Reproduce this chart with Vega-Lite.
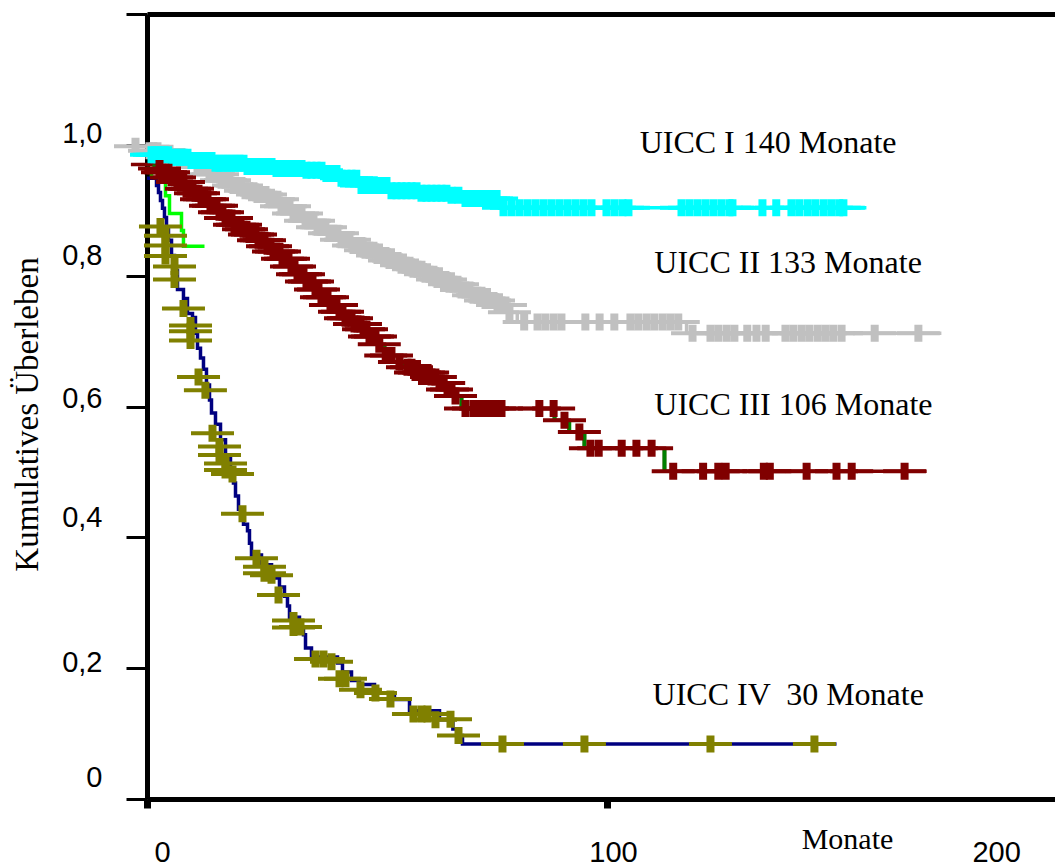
{
"$schema": "https://vega.github.io/schema/vega-lite/v6.json",
"width": 908, "height": 785,
"autosize": {"type": "none"},
"padding": {"left": 147, "top": 14, "right": 0, "bottom": 69},
"background": "white",
"config": {"view": {"stroke": null}},
"datasets": {
"curves": [
{"group":"II","month":-3.5,"surv":0.991},{"group":"II","month":2.72,"surv":0.987},{"group":"II","month":5.33,"surv":0.982},{"group":"II","month":7.93,"surv":0.976},{"group":"II","month":10.54,"surv":0.967},{"group":"II","month":13.15,"surv":0.955},{"group":"II","month":15.76,"surv":0.946},{"group":"II","month":18.37,"surv":0.938},{"group":"II","month":20.98,"surv":0.930},{"group":"II","month":23.59,"surv":0.924},{"group":"II","month":26.2,"surv":0.917},{"group":"II","month":28.8,"surv":0.906},{"group":"II","month":31.41,"surv":0.895},{"group":"II","month":34.02,"surv":0.884},{"group":"II","month":36.63,"surv":0.874},{"group":"II","month":39.24,"surv":0.865},{"group":"II","month":41.85,"surv":0.855},{"group":"II","month":44.46,"surv":0.846},{"group":"II","month":47.07,"surv":0.839},{"group":"II","month":49.67,"surv":0.831},{"group":"II","month":52.28,"surv":0.823},{"group":"II","month":54.89,"surv":0.816},{"group":"II","month":57.5,"surv":0.810},{"group":"II","month":60.1,"surv":0.802},{"group":"II","month":62.7,"surv":0.794},{"group":"II","month":65.3,"surv":0.787},{"group":"II","month":67.9,"surv":0.778},{"group":"II","month":70.5,"surv":0.770},{"group":"II","month":73.2,"surv":0.762},{"group":"II","month":75.8,"surv":0.755},{"group":"II","month":78.4,"surv":0.744},{"group":"II","month":80.5,"surv":0.729},{"group":"II","month":117.3,"surv":0.712},{"group":"II","month":172.7,"surv":0.712},
{"group":"I","month":-1.5,"surv":0.985},{"group":"I","month":4.89,"surv":0.981},{"group":"I","month":9.24,"surv":0.976},{"group":"I","month":14.67,"surv":0.972},{"group":"I","month":21.2,"surv":0.967},{"group":"I","month":27.7,"surv":0.964},{"group":"I","month":34.2,"surv":0.961},{"group":"I","month":38.6,"surv":0.956},{"group":"I","month":41.8,"surv":0.949},{"group":"I","month":46.2,"surv":0.938},{"group":"I","month":52.7,"surv":0.930},{"group":"I","month":59.2,"surv":0.926},{"group":"I","month":65.8,"surv":0.923},{"group":"I","month":67.9,"surv":0.918},{"group":"I","month":76.6,"surv":0.904},{"group":"I","month":156.4,"surv":0.904},
{"group":"X","month":0,"surv":0.964},{"group":"X","month":0.98,"surv":0.949},{"group":"X","month":4.02,"surv":0.922},{"group":"X","month":4.89,"surv":0.895},{"group":"X","month":7.5,"surv":0.869},{"group":"X","month":7.93,"surv":0.845},{"group":"X","month":12.5,"surv":0.845},
{"group":"III","month":-3.5,"surv":0.970},{"group":"III","month":1.63,"surv":0.964},{"group":"III","month":3.15,"surv":0.958},{"group":"III","month":4.89,"surv":0.950},{"group":"III","month":6.63,"surv":0.943},{"group":"III","month":8.37,"surv":0.933},{"group":"III","month":10.11,"surv":0.926},{"group":"III","month":11.85,"surv":0.917},{"group":"III","month":13.59,"surv":0.907},{"group":"III","month":15.33,"surv":0.897},{"group":"III","month":17.07,"surv":0.888},{"group":"III","month":18.8,"surv":0.878},{"group":"III","month":20.54,"surv":0.871},{"group":"III","month":22.28,"surv":0.863},{"group":"III","month":24.02,"surv":0.854},{"group":"III","month":25.76,"surv":0.845},{"group":"III","month":27.5,"surv":0.837},{"group":"III","month":29.24,"surv":0.826},{"group":"III","month":30.98,"surv":0.814},{"group":"III","month":32.72,"surv":0.802},{"group":"III","month":34.46,"surv":0.791},{"group":"III","month":36.2,"surv":0.779},{"group":"III","month":37.93,"surv":0.767},{"group":"III","month":39.67,"surv":0.755},{"group":"III","month":41.41,"surv":0.745},{"group":"III","month":43.15,"surv":0.735},{"group":"III","month":44.89,"surv":0.726},{"group":"III","month":46.63,"surv":0.718},{"group":"III","month":48.37,"surv":0.707},{"group":"III","month":50.11,"surv":0.695},{"group":"III","month":51.63,"surv":0.678},{"group":"III","month":53.37,"surv":0.668},{"group":"III","month":55.98,"surv":0.660},{"group":"III","month":58.15,"surv":0.652},{"group":"III","month":60.33,"surv":0.645},{"group":"III","month":62.93,"surv":0.636},{"group":"III","month":65.11,"surv":0.626},{"group":"III","month":67.28,"surv":0.616},{"group":"III","month":68.37,"surv":0.597},{"group":"III","month":88.6,"surv":0.579},{"group":"III","month":91.8,"surv":0.561},{"group":"III","month":95.1,"surv":0.536},{"group":"III","month":112.5,"surv":0.501},{"group":"III","month":169.5,"surv":0.501},
{"group":"IV","month":0,"surv":0.949},{"group":"IV","month":2.07,"surv":0.938},{"group":"IV","month":2.5,"surv":0.927},{"group":"IV","month":2.93,"surv":0.915},{"group":"IV","month":3.37,"surv":0.903},{"group":"IV","month":3.8,"surv":0.889},{"group":"IV","month":4.24,"surv":0.872},{"group":"IV","month":4.67,"surv":0.854},{"group":"IV","month":5.33,"surv":0.831},{"group":"IV","month":5.98,"surv":0.808},{"group":"IV","month":6.63,"surv":0.779},{"group":"IV","month":7.93,"surv":0.765},{"group":"IV","month":8.8,"surv":0.742},{"group":"IV","month":9.89,"surv":0.736},{"group":"IV","month":10.54,"surv":0.712},{"group":"IV","month":10.98,"surv":0.689},{"group":"IV","month":11.63,"surv":0.674},{"group":"IV","month":12.28,"surv":0.657},{"group":"IV","month":12.93,"surv":0.633},{"group":"IV","month":13.59,"surv":0.610},{"group":"IV","month":14.02,"surv":0.590},{"group":"IV","month":14.89,"surv":0.573},{"group":"IV","month":15.98,"surv":0.549},{"group":"IV","month":17.07,"surv":0.526},{"group":"IV","month":18.15,"surv":0.503},{"group":"IV","month":18.8,"surv":0.483},{"group":"IV","month":19.24,"surv":0.463},{"group":"IV","month":19.89,"surv":0.443},{"group":"IV","month":20.98,"surv":0.420},{"group":"IV","month":21.85,"surv":0.410},{"group":"IV","month":22.28,"surv":0.391},{"group":"IV","month":22.72,"surv":0.373},{"group":"IV","month":24.89,"surv":0.358},{"group":"IV","month":27.07,"surv":0.338},{"group":"IV","month":28.8,"surv":0.324},{"group":"IV","month":29.89,"surv":0.310},{"group":"IV","month":30.54,"surv":0.295},{"group":"IV","month":30.98,"surv":0.278},{"group":"IV","month":33.15,"surv":0.263},{"group":"IV","month":34.02,"surv":0.251},{"group":"IV","month":34.46,"surv":0.231},{"group":"IV","month":35.76,"surv":0.217},{"group":"IV","month":41.41,"surv":0.208},{"group":"IV","month":42.5,"surv":0.194},{"group":"IV","month":44.46,"surv":0.181},{"group":"IV","month":46.2,"surv":0.175},{"group":"IV","month":49.46,"surv":0.162},{"group":"IV","month":53.8,"surv":0.152},{"group":"IV","month":57.07,"surv":0.135},{"group":"IV","month":63.59,"surv":0.121},{"group":"IV","month":66.5,"surv":0.107},{"group":"IV","month":67.4,"surv":0.097},{"group":"IV","month":68.59,"surv":0.084},{"group":"IV","month":149.9,"surv":0.084}
],
"censors": [
{"group":"II","month":-2.5,"surv":0.998},{"group":"II","month":0.54,"surv":0.991},{"group":"II","month":1.41,"surv":0.991},{"group":"II","month":2.28,"surv":0.991},{"group":"II","month":3.15,"surv":0.987},{"group":"II","month":4.02,"surv":0.987},{"group":"II","month":4.89,"surv":0.987},{"group":"II","month":5.76,"surv":0.982},{"group":"II","month":6.63,"surv":0.982},{"group":"II","month":7.5,"surv":0.982},{"group":"II","month":8.37,"surv":0.976},{"group":"II","month":9.24,"surv":0.976},{"group":"II","month":10.11,"surv":0.976},{"group":"II","month":10.98,"surv":0.967},{"group":"II","month":11.85,"surv":0.967},{"group":"II","month":12.72,"surv":0.967},{"group":"II","month":13.59,"surv":0.955},{"group":"II","month":14.46,"surv":0.955},{"group":"II","month":15.33,"surv":0.955},{"group":"II","month":16.2,"surv":0.946},{"group":"II","month":17.07,"surv":0.946},{"group":"II","month":17.93,"surv":0.946},{"group":"II","month":18.8,"surv":0.938},{"group":"II","month":19.67,"surv":0.938},{"group":"II","month":20.54,"surv":0.938},{"group":"II","month":21.41,"surv":0.930},{"group":"II","month":22.28,"surv":0.930},{"group":"II","month":23.15,"surv":0.930},{"group":"II","month":24.02,"surv":0.924},{"group":"II","month":24.89,"surv":0.924},{"group":"II","month":25.76,"surv":0.924},{"group":"II","month":26.63,"surv":0.917},{"group":"II","month":27.5,"surv":0.917},{"group":"II","month":28.37,"surv":0.917},{"group":"II","month":29.24,"surv":0.906},{"group":"II","month":30.11,"surv":0.906},{"group":"II","month":30.98,"surv":0.906},{"group":"II","month":31.85,"surv":0.895},{"group":"II","month":32.72,"surv":0.895},{"group":"II","month":33.59,"surv":0.895},{"group":"II","month":34.46,"surv":0.884},{"group":"II","month":35.33,"surv":0.884},{"group":"II","month":36.2,"surv":0.884},{"group":"II","month":37.07,"surv":0.874},{"group":"II","month":37.93,"surv":0.874},{"group":"II","month":38.8,"surv":0.874},{"group":"II","month":39.67,"surv":0.865},{"group":"II","month":40.54,"surv":0.865},{"group":"II","month":41.41,"surv":0.865},{"group":"II","month":42.28,"surv":0.855},{"group":"II","month":43.15,"surv":0.855},{"group":"II","month":44.02,"surv":0.855},{"group":"II","month":44.89,"surv":0.846},{"group":"II","month":45.76,"surv":0.846},{"group":"II","month":46.63,"surv":0.846},{"group":"II","month":47.5,"surv":0.839},{"group":"II","month":48.37,"surv":0.839},{"group":"II","month":49.24,"surv":0.839},{"group":"II","month":50.11,"surv":0.831},{"group":"II","month":50.98,"surv":0.831},{"group":"II","month":51.85,"surv":0.831},{"group":"II","month":52.72,"surv":0.823},{"group":"II","month":53.59,"surv":0.823},{"group":"II","month":54.46,"surv":0.823},{"group":"II","month":55.33,"surv":0.816},{"group":"II","month":56.2,"surv":0.816},{"group":"II","month":57.07,"surv":0.816},{"group":"II","month":57.93,"surv":0.810},{"group":"II","month":58.8,"surv":0.810},{"group":"II","month":59.67,"surv":0.810},{"group":"II","month":60.54,"surv":0.802},{"group":"II","month":61.41,"surv":0.802},{"group":"II","month":62.28,"surv":0.802},{"group":"II","month":63.15,"surv":0.794},{"group":"II","month":64.02,"surv":0.794},{"group":"II","month":64.89,"surv":0.794},{"group":"II","month":65.76,"surv":0.787},{"group":"II","month":66.63,"surv":0.787},{"group":"II","month":67.5,"surv":0.787},{"group":"II","month":68.37,"surv":0.778},{"group":"II","month":69.24,"surv":0.778},{"group":"II","month":70.11,"surv":0.778},{"group":"II","month":70.98,"surv":0.770},{"group":"II","month":71.85,"surv":0.770},{"group":"II","month":72.72,"surv":0.770},{"group":"II","month":73.59,"surv":0.762},{"group":"II","month":74.46,"surv":0.762},{"group":"II","month":75.33,"surv":0.762},{"group":"II","month":76.2,"surv":0.755},{"group":"II","month":77.07,"surv":0.755},{"group":"II","month":77.93,"surv":0.755},{"group":"II","month":78.8,"surv":0.744},
{"group":"II","month":82.0,"surv":0.729},{"group":"II","month":84.9,"surv":0.729},{"group":"II","month":86.6,"surv":0.729},{"group":"II","month":88.4,"surv":0.729},{"group":"II","month":90.1,"surv":0.729},{"group":"II","month":95.3,"surv":0.729},{"group":"II","month":98.4,"surv":0.729},{"group":"II","month":101.6,"surv":0.729},{"group":"II","month":105.1,"surv":0.729},{"group":"II","month":106.8,"surv":0.729},{"group":"II","month":108.6,"surv":0.729},{"group":"II","month":110.3,"surv":0.729},{"group":"II","month":112.1,"surv":0.729},{"group":"II","month":113.8,"surv":0.729},{"group":"II","month":115.5,"surv":0.729},
{"group":"II","month":118.6,"surv":0.712},{"group":"II","month":122.5,"surv":0.712},{"group":"II","month":124.2,"surv":0.712},{"group":"II","month":126.0,"surv":0.712},{"group":"II","month":127.7,"surv":0.712},{"group":"II","month":130.5,"surv":0.712},{"group":"II","month":132.5,"surv":0.712},{"group":"II","month":134.5,"surv":0.712},{"group":"II","month":138.8,"surv":0.712},{"group":"II","month":140.5,"surv":0.712},{"group":"II","month":142.3,"surv":0.712},{"group":"II","month":144.0,"surv":0.712},{"group":"II","month":145.8,"surv":0.712},{"group":"II","month":147.5,"surv":0.712},{"group":"II","month":149.2,"surv":0.712},{"group":"II","month":151.0,"surv":0.712},{"group":"II","month":158.2,"surv":0.712},{"group":"II","month":167.7,"surv":0.712},
{"group":"I","month":0.98,"surv":0.985},{"group":"I","month":1.63,"surv":0.985},{"group":"I","month":2.28,"surv":0.985},{"group":"I","month":3.04,"surv":0.985},{"group":"I","month":3.8,"surv":0.985},{"group":"I","month":4.57,"surv":0.985},{"group":"I","month":5.33,"surv":0.981},{"group":"I","month":6.2,"surv":0.981},{"group":"I","month":7.07,"surv":0.981},{"group":"I","month":7.94,"surv":0.981},{"group":"I","month":8.8,"surv":0.981},{"group":"I","month":9.67,"surv":0.976},{"group":"I","month":10.54,"surv":0.976},{"group":"I","month":11.41,"surv":0.976},{"group":"I","month":12.28,"surv":0.976},{"group":"I","month":13.15,"surv":0.976},{"group":"I","month":14.02,"surv":0.976},{"group":"I","month":14.89,"surv":0.972},{"group":"I","month":15.76,"surv":0.972},{"group":"I","month":16.63,"surv":0.972},{"group":"I","month":17.5,"surv":0.972},{"group":"I","month":18.37,"surv":0.972},{"group":"I","month":19.24,"surv":0.972},{"group":"I","month":20.1,"surv":0.972},{"group":"I","month":20.98,"surv":0.972},{"group":"I","month":21.85,"surv":0.967},{"group":"I","month":22.72,"surv":0.967},{"group":"I","month":23.8,"surv":0.967},{"group":"I","month":24.89,"surv":0.967},{"group":"I","month":25.98,"surv":0.967},{"group":"I","month":27.07,"surv":0.967},{"group":"I","month":28.15,"surv":0.964},{"group":"I","month":29.24,"surv":0.964},{"group":"I","month":30.33,"surv":0.964},{"group":"I","month":31.41,"surv":0.964},{"group":"I","month":32.5,"surv":0.964},{"group":"I","month":33.59,"surv":0.964},{"group":"I","month":34.67,"surv":0.961},{"group":"I","month":35.76,"surv":0.961},{"group":"I","month":36.85,"surv":0.961},{"group":"I","month":37.93,"surv":0.961},{"group":"I","month":39.0,"surv":0.956},{"group":"I","month":40.11,"surv":0.956},{"group":"I","month":41.2,"surv":0.956},{"group":"I","month":42.28,"surv":0.949},{"group":"I","month":43.37,"surv":0.949},{"group":"I","month":44.46,"surv":0.949},{"group":"I","month":45.5,"surv":0.949},{"group":"I","month":46.63,"surv":0.938},{"group":"I","month":47.7,"surv":0.938},{"group":"I","month":48.8,"surv":0.938},{"group":"I","month":49.9,"surv":0.938},{"group":"I","month":50.98,"surv":0.938},{"group":"I","month":52.07,"surv":0.938},{"group":"I","month":53.15,"surv":0.930},{"group":"I","month":54.24,"surv":0.930},{"group":"I","month":55.33,"surv":0.930},{"group":"I","month":56.4,"surv":0.930},{"group":"I","month":57.5,"surv":0.930},{"group":"I","month":58.6,"surv":0.930},{"group":"I","month":59.67,"surv":0.926},{"group":"I","month":60.76,"surv":0.926},{"group":"I","month":61.85,"surv":0.926},{"group":"I","month":62.93,"surv":0.926},{"group":"I","month":64.02,"surv":0.926},{"group":"I","month":65.1,"surv":0.926},{"group":"I","month":66.2,"surv":0.923},{"group":"I","month":67.7,"surv":0.923},{"group":"I","month":69.24,"surv":0.918},{"group":"I","month":69.9,"surv":0.918},{"group":"I","month":70.54,"surv":0.918},{"group":"I","month":72.07,"surv":0.918},{"group":"I","month":73.59,"surv":0.918},{"group":"I","month":74.24,"surv":0.918},{"group":"I","month":74.89,"surv":0.918},{"group":"I","month":76.0,"surv":0.918},
{"group":"I","month":77.5,"surv":0.904},{"group":"I","month":79.24,"surv":0.904},{"group":"I","month":80.98,"surv":0.904},{"group":"I","month":82.72,"surv":0.904},{"group":"I","month":84.46,"surv":0.904},{"group":"I","month":86.2,"surv":0.904},{"group":"I","month":87.93,"surv":0.904},{"group":"I","month":89.67,"surv":0.904},{"group":"I","month":91.41,"surv":0.904},{"group":"I","month":93.15,"surv":0.904},{"group":"I","month":94.89,"surv":0.904},{"group":"I","month":96.63,"surv":0.904},{"group":"I","month":99.89,"surv":0.904},{"group":"I","month":101.63,"surv":0.904},{"group":"I","month":103.37,"surv":0.904},{"group":"I","month":104.67,"surv":0.904},{"group":"I","month":116.2,"surv":0.904},{"group":"I","month":117.93,"surv":0.904},{"group":"I","month":119.67,"surv":0.904},{"group":"I","month":121.41,"surv":0.904},{"group":"I","month":123.15,"surv":0.904},{"group":"I","month":124.89,"surv":0.904},{"group":"I","month":126.63,"surv":0.904},{"group":"I","month":127.28,"surv":0.904},{"group":"I","month":133.8,"surv":0.904},{"group":"I","month":136.8,"surv":0.904},{"group":"I","month":140.1,"surv":0.904},{"group":"I","month":141.8,"surv":0.904},{"group":"I","month":143.6,"surv":0.904},{"group":"I","month":145.3,"surv":0.904},{"group":"I","month":147.1,"surv":0.904},{"group":"I","month":148.8,"surv":0.904},{"group":"I","month":150.5,"surv":0.904},{"group":"I","month":151.4,"surv":0.904},
{"group":"III","month":2.72,"surv":0.964},{"group":"III","month":3.37,"surv":0.958},{"group":"III","month":4.02,"surv":0.958},{"group":"III","month":4.67,"surv":0.958},{"group":"III","month":5.33,"surv":0.950},{"group":"III","month":5.98,"surv":0.950},{"group":"III","month":6.63,"surv":0.943},{"group":"III","month":7.28,"surv":0.943},{"group":"III","month":7.93,"surv":0.943},{"group":"III","month":8.59,"surv":0.933},{"group":"III","month":9.24,"surv":0.933},{"group":"III","month":9.89,"surv":0.933},{"group":"III","month":10.54,"surv":0.926},{"group":"III","month":11.2,"surv":0.926},{"group":"III","month":11.85,"surv":0.917},{"group":"III","month":12.5,"surv":0.917},{"group":"III","month":13.15,"surv":0.917},{"group":"III","month":13.8,"surv":0.907},{"group":"III","month":14.46,"surv":0.907},{"group":"III","month":15.11,"surv":0.907},{"group":"III","month":15.76,"surv":0.897},{"group":"III","month":16.41,"surv":0.897},{"group":"III","month":17.07,"surv":0.888},{"group":"III","month":17.72,"surv":0.888},{"group":"III","month":18.37,"surv":0.888},{"group":"III","month":19.02,"surv":0.878},{"group":"III","month":19.67,"surv":0.878},{"group":"III","month":20.33,"surv":0.878},{"group":"III","month":20.98,"surv":0.871},{"group":"III","month":21.63,"surv":0.871},{"group":"III","month":22.28,"surv":0.863},{"group":"III","month":22.93,"surv":0.863},{"group":"III","month":23.59,"surv":0.863},{"group":"III","month":24.24,"surv":0.854},{"group":"III","month":24.89,"surv":0.854},{"group":"III","month":25.54,"surv":0.854},{"group":"III","month":26.2,"surv":0.845},{"group":"III","month":26.85,"surv":0.845},{"group":"III","month":27.5,"surv":0.837},{"group":"III","month":28.15,"surv":0.837},{"group":"III","month":28.8,"surv":0.837},{"group":"III","month":29.46,"surv":0.826},{"group":"III","month":30.11,"surv":0.826},{"group":"III","month":30.76,"surv":0.826},{"group":"III","month":31.41,"surv":0.814},{"group":"III","month":32.07,"surv":0.814},{"group":"III","month":32.72,"surv":0.802},{"group":"III","month":33.37,"surv":0.802},{"group":"III","month":34.02,"surv":0.802},{"group":"III","month":34.67,"surv":0.791},{"group":"III","month":35.33,"surv":0.791},{"group":"III","month":35.98,"surv":0.791},{"group":"III","month":36.63,"surv":0.779},{"group":"III","month":37.28,"surv":0.779},{"group":"III","month":37.93,"surv":0.767},{"group":"III","month":38.59,"surv":0.767},{"group":"III","month":39.24,"surv":0.767},{"group":"III","month":39.89,"surv":0.755},{"group":"III","month":40.54,"surv":0.755},{"group":"III","month":41.2,"surv":0.755},{"group":"III","month":41.85,"surv":0.745},{"group":"III","month":42.5,"surv":0.745},{"group":"III","month":43.15,"surv":0.735},{"group":"III","month":43.8,"surv":0.735},{"group":"III","month":44.46,"surv":0.735},{"group":"III","month":45.11,"surv":0.726},{"group":"III","month":45.76,"surv":0.726},{"group":"III","month":46.41,"surv":0.726},{"group":"III","month":47.07,"surv":0.718},{"group":"III","month":47.72,"surv":0.718},{"group":"III","month":48.37,"surv":0.707},{"group":"III","month":49.02,"surv":0.707},{"group":"III","month":49.67,"surv":0.707},{"group":"III","month":50.5,"surv":0.695},{"group":"III","month":51.9,"surv":0.678},{"group":"III","month":53.15,"surv":0.678},{"group":"III","month":54.89,"surv":0.668},{"group":"III","month":56.63,"surv":0.660},{"group":"III","month":57.5,"surv":0.660},{"group":"III","month":58.37,"surv":0.652},{"group":"III","month":59.2,"surv":0.652},{"group":"III","month":60.1,"surv":0.652},{"group":"III","month":61.0,"surv":0.652},{"group":"III","month":61.85,"surv":0.645},{"group":"III","month":62.7,"surv":0.645},{"group":"III","month":63.59,"surv":0.636},{"group":"III","month":64.5,"surv":0.636},{"group":"III","month":65.33,"surv":0.626},{"group":"III","month":66.2,"surv":0.626},{"group":"III","month":67.07,"surv":0.616},
{"group":"III","month":69.24,"surv":0.597},{"group":"III","month":70.98,"surv":0.597},{"group":"III","month":72.5,"surv":0.597},{"group":"III","month":74.02,"surv":0.597},{"group":"III","month":75.54,"surv":0.597},{"group":"III","month":77.07,"surv":0.597},{"group":"III","month":85.3,"surv":0.597},{"group":"III","month":88.4,"surv":0.597},{"group":"III","month":90.76,"surv":0.579},{"group":"III","month":94.0,"surv":0.561},{"group":"III","month":96.4,"surv":0.536},{"group":"III","month":98.2,"surv":0.536},{"group":"III","month":103.2,"surv":0.536},{"group":"III","month":106.4,"surv":0.536},{"group":"III","month":109.7,"surv":0.536},{"group":"III","month":114.4,"surv":0.501},{"group":"III","month":120.9,"surv":0.501},{"group":"III","month":124.2,"surv":0.501},{"group":"III","month":125.8,"surv":0.501},{"group":"III","month":134.1,"surv":0.501},{"group":"III","month":135.4,"surv":0.501},{"group":"III","month":143.4,"surv":0.501},{"group":"III","month":149.9,"surv":0.501},{"group":"III","month":153.2,"surv":0.501},{"group":"III","month":164.7,"surv":0.501},
{"group":"IV","month":2.93,"surv":0.875},{"group":"IV","month":4.02,"surv":0.861},{"group":"IV","month":4.02,"surv":0.846},{"group":"IV","month":4.02,"surv":0.830},{"group":"IV","month":5.98,"surv":0.814},{"group":"IV","month":5.98,"surv":0.794},{"group":"IV","month":7.93,"surv":0.750},{"group":"IV","month":9.46,"surv":0.724},{"group":"IV","month":9.46,"surv":0.715},{"group":"IV","month":9.46,"surv":0.701},{"group":"IV","month":11.2,"surv":0.645},{"group":"IV","month":12.7,"surv":0.625},{"group":"IV","month":14.24,"surv":0.559},{"group":"IV","month":15.76,"surv":0.539},{"group":"IV","month":15.76,"surv":0.526},{"group":"IV","month":17.07,"surv":0.513},{"group":"IV","month":17.07,"surv":0.503},{"group":"IV","month":18.59,"surv":0.497},{"group":"IV","month":20.76,"surv":0.436},{"group":"IV","month":23.8,"surv":0.368},{"group":"IV","month":25.54,"surv":0.355},{"group":"IV","month":25.54,"surv":0.345},{"group":"IV","month":27.07,"surv":0.342},{"group":"IV","month":28.59,"surv":0.312},{"group":"IV","month":31.85,"surv":0.273},{"group":"IV","month":31.85,"surv":0.262},{"group":"IV","month":33.37,"surv":0.263},{"group":"IV","month":36.63,"surv":0.214},{"group":"IV","month":38.37,"surv":0.214},{"group":"IV","month":40.11,"surv":0.210},{"group":"IV","month":41.85,"surv":0.184},{"group":"IV","month":43.15,"surv":0.184},{"group":"IV","month":46.41,"surv":0.167},{"group":"IV","month":49.67,"surv":0.162},{"group":"IV","month":52.93,"surv":0.153},{"group":"IV","month":57.93,"surv":0.130},{"group":"IV","month":59.67,"surv":0.130},{"group":"IV","month":60.98,"surv":0.130},{"group":"IV","month":62.72,"surv":0.121},{"group":"IV","month":65.98,"surv":0.122},{"group":"IV","month":67.72,"surv":0.097},{"group":"IV","month":77.28,"surv":0.084},{"group":"IV","month":95.1,"surv":0.084},{"group":"IV","month":122.5,"surv":0.084},{"group":"IV","month":145.1,"surv":0.084}
],
"labels": [
{"label":"UICC I 140 Monate","month":107.1,"surv":0.988},
{"label":"UICC II 133 Monate","month":110.3,"surv":0.804},
{"label":"UICC III 106 Monate","month":110.3,"surv":0.587},
{"label":"UICC IV \u00a030 Monate","month":109.9,"surv":0.144}
],
"extra": [
{"label":"200","month":184.7,"surv":-0.0825}
]
},
"encoding": {
"x": {"field": "month", "type": "quantitative", "title": "Monate",
 "scale": {"domain": [0, 197.4], "nice": false, "zero": false},
 "axis": {"values": [0, 100], "domainColor": "black", "domainWidth": 5, "tickColor": "black", "tickWidth": 7, "tickSize": 9,
  "labelFont": "Liberation Sans", "labelFontSize": 29, "labelColor": "black", "labelPadding": 30, "labelFlush": false, "labelOverlap": false,
  "labelOffset": {"condition": {"test": "datum.value == 0", "value": 15}, "value": 6},
  "grid": false,
  "titleFont": "Liberation Serif", "titleFontSize": 30, "titleFontWeight": "normal", "titleColor": "black",
  "titleX": 700, "titleY": 49, "titleAlign": "center", "titleBaseline": "alphabetic"}},
"y": {"field": "surv", "type": "quantitative", "title": "Kumulatives Überleben",
 "scale": {"domain": [0, 1.2], "nice": false, "zero": false},
 "axis": {"values": [0, 0.2, 0.4, 0.6, 0.8, 1.0, 1.2],
  "labelExpr": "datum.value > 1.1 ? '' : (datum.value == 0 ? '0' : replace(format(datum.value, '.1f'), '.', ','))",
  "domainColor": "black", "domainWidth": 5, "tickColor": "black", "tickWidth": 3, "tickSize": 21,
  "labelFont": "Liberation Sans", "labelFontSize": 29, "labelColor": "black", "labelPadding": 24, "labelBaseline": "middle",
  "labelOffset": {"condition": [
    {"test": "datum.value == 0", "value": -22},
    {"test": "abs(datum.value - 0.2) < 0.01", "value": -6},
    {"test": "abs(datum.value - 0.4) < 0.01", "value": -20},
    {"test": "abs(datum.value - 0.6) < 0.01", "value": -8},
    {"test": "abs(datum.value - 0.8) < 0.01", "value": -20}], "value": -11},
  "grid": true, "gridWidth": 5,
  "gridColor": {"condition": {"test": "datum.value > 1.1", "value": "black"}, "value": "transparent"},
  "titleFont": "Liberation Serif", "titleFontSize": 33, "titleFontWeight": "normal", "titleColor": "black",
  "titleX": -110, "titleY": 400, "titleAlign": "center", "titleBaseline": "alphabetic", "titleAngle": -90}}
},
"layer": [
{"data": {"name": "curves"},
 "mark": {"type": "line", "interpolate": "step-after", "strokeWidth": 3.5},
 "encoding": {"stroke": {"field": "group", "type": "nominal", "legend": null,
   "scale": {"domain": ["I", "II", "III", "IV", "X"], "range": ["#00FFFF", "#C0C0C0", "#800000", "#000080", "#00FF00"]}}}},
{"data": {"name": "curves"},
 "transform": [{"filter": "datum.group == 'III'"},
   {"window": [{"op": "lag", "field": "surv", "as": "prev"}], "sort": [{"field": "month"}]},
   {"filter": "datum.prev != null"}],
 "mark": {"type": "rule", "color": "#008000", "strokeWidth": 4},
 "encoding": {"y2": {"field": "prev"}}},
{"data": {"name": "censors"},
 "mark": {"type": "point", "shape": "M-2.15,-0.2H2.15V0.2H-2.15Z M-0.4,-0.85H0.4V0.85H-0.4Z", "size": 400, "filled": true, "opacity": 1, "strokeWidth": 0},
 "encoding": {"fill": {"field": "group", "type": "nominal", "legend": null,
   "scale": {"domain": ["I", "II", "III", "IV"], "range": ["#00FFFF", "#C0C0C0", "#800000", "#808000"]}}}},
{"data": {"name": "labels"},
 "mark": {"type": "text", "font": "Liberation Serif", "fontSize": 32, "align": "left", "baseline": "alphabetic", "color": "black"},
 "encoding": {"text": {"field": "label"}}},
{"data": {"name": "extra"},
 "mark": {"type": "text", "font": "Liberation Sans", "fontSize": 29, "align": "center", "baseline": "middle", "color": "black"},
 "encoding": {"text": {"field": "label"}}}
]
}
